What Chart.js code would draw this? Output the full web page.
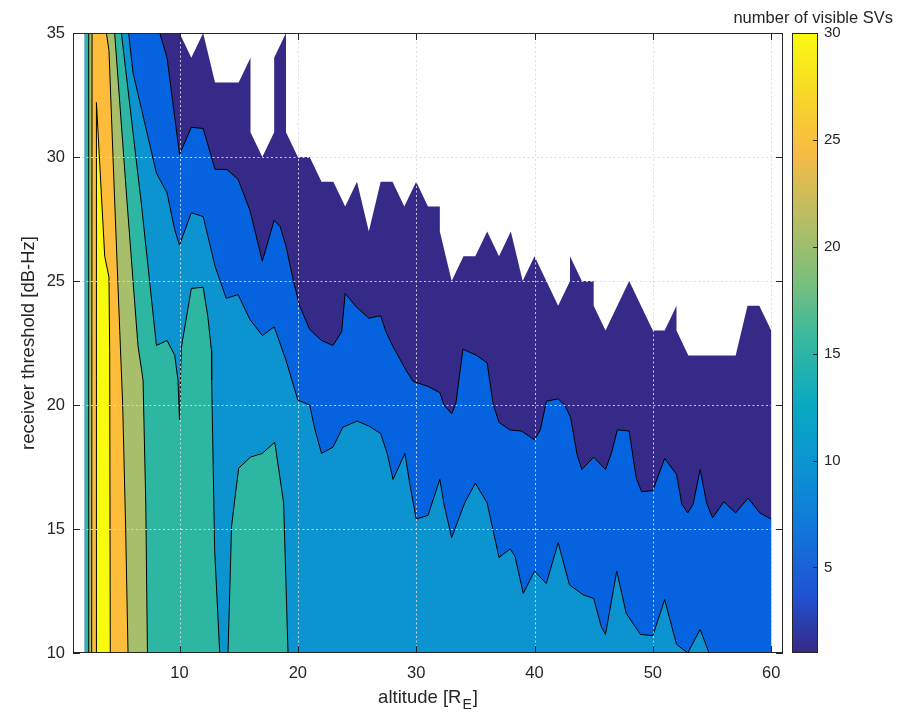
<!DOCTYPE html>
<html><head><meta charset="utf-8">
<script src="https://cdn.jsdelivr.net/npm/chart.js@4/dist/chart.umd.min.js"></script>
<style>
html,body{margin:0;padding:0;background:#fff;}
#wrap{position:relative;width:911px;height:718px;}
#wrap canvas{position:absolute;left:0;top:0;}
</style></head><body>
<div id="wrap"><canvas id="main" width="911" height="718"></canvas><canvas id="cbar" width="911" height="718"></canvas></div>
<script>
const FONT = "'Liberation Sans', Arial, Helvetica, sans-serif";
const INK = '#262626';
const TICK_SIZE = 16.5, LABEL_SIZE = 18.5, CB_TICK_SIZE = 15, CB_TITLE_SIZE = 16.5;

// ---- axes / ticks ----
const altitudeTicks = [10, 20, 30, 40, 50, 60];
const thresholdTicks = [10, 15, 20, 25, 30, 35];
const colorbarTicks = [5, 10, 15, 20, 25, 30];
const svRange = [1, 30];
const svLevels = [1, 5, 10, 15, 20, 25, 30];
const xTitleText = ['altitude [R', 'E', ']'];
const yTitleText = 'receiver threshold [dB-Hz]';
const cbTitleText = 'number of visible SVs';

// ---- filled-contour regions: [altitude R_E, threshold dB-Hz], value >= level ----
const lvl1Region = [[2,10],[60,10],[60,23],[59,24],[58,24],[57,22],[53,22],[52,23],[52,24],[51,23],[50,23],[48,25],[46,23],[45,24],[45,25],[44,25],[43,26],[43,25],[42,24],[40,26],[39,25],[38,27],[37,26],[36,27],[35,26],[34,26],[33,25],[32,27],[32,28],[31,28],[30,29],[29,28],[28,29],[27,29],[26,27],[25,29],[24,28],[23,29],[22,29],[21,30],[20,30],[19,31],[19,35],[18,34],[18,31],[17,30],[16,31],[16,34],[15,33],[13,33],[12,35],[11,34],[10,35],[2,35]];
const lvl5Region = [[8.33,35],[8.95,34.0],[10.0,30.1],[11.0,31.2],[12.0,31.15],[13.0,29.5],[14.0,29.5],[14.95,29.1],[15.95,27.85],[17.0,25.8],[18.0,27.45],[18.5,27.2],[19.0,26.4],[19.6,25.05],[20.15,24.0],[21.0,23.05],[22.0,22.6],[22.97,22.4],[23.7,22.95],[24.0,24.5],[24.95,23.95],[26.0,23.5],[27.0,23.6],[27.45,22.95],[28.05,22.35],[29.15,21.4],[29.75,20.95],[31.0,20.75],[32.0,20.5],[32.35,20.0],[33.0,19.65],[33.35,20.05],[33.95,22.25],[35.1,22.0],[36.0,21.7],[36.5,20.05],[37.0,19.3],[37.9,19.0],[38.9,18.95],[40.0,18.6],[40.5,19.0],[41.0,20.15],[42.0,20.25],[42.55,20.0],[43.05,19.5],[43.6,18.0],[44.0,17.4],[45.0,17.9],[46.0,17.4],[46.5,18.05],[47.0,19.0],[48.0,18.95],[48.6,17.05],[49.05,16.5],[50.0,16.55],[51.0,17.85],[52.0,17.2],[52.45,16.0],[52.95,15.65],[53.4,16.0],[54.0,17.4],[54.55,16.05],[55.05,15.45],[56.0,16.1],[57.0,15.65],[58.05,16.25],[59.05,15.65],[60,15.4],[60,10],[2,10],[2,35]];
const lvl10Region = [[5.7,35],[6.07,33.4],[8.05,29.35],[8.95,28.55],[9.6,27.05],[10.0,26.45],[11.0,27.75],[12.0,27.6],[13.0,25.6],[13.95,24.3],[14.95,24.45],[15.95,23.45],[17.0,22.8],[18.0,23.15],[19.0,21.8],[20.0,20.2],[21.0,20.0],[21.45,19.0],[22.0,18.05],[22.97,18.3],[23.8,19.1],[25.0,19.35],[26.0,19.15],[27.0,18.85],[27.55,18.05],[28.05,17.0],[29.05,18.05],[29.45,16.85],[30.0,15.4],[31.0,15.55],[32.0,17.0],[32.35,16.0],[33.0,14.65],[34.1,16.05],[35.0,16.85],[36.0,16.05],[36.5,14.95],[37.0,13.85],[37.95,14.2],[38.35,13.9],[39.05,12.4],[40.0,13.3],[41.0,12.8],[42.0,14.45],[42.95,12.75],[44.1,12.35],[45.0,12.2],[45.65,11.05],[46.0,10.75],[46.95,13.3],[47.75,11.6],[48.95,10.75],[50.0,10.7],[51.0,12.15],[52.0,10.35],[52.95,10],[54.0,10.95],[54.75,10],[2,10],[2,35]];
const lvl15RegionA = [[5.09,35],[6.78,28.1],[8.05,22.4],[8.95,22.6],[9.6,22.0],[9.87,21.0],[10.0,19.4],[10.15,22.3],[11.0,24.7],[12.0,24.75],[12.4,23.55],[12.7,22.2],[12.72,21.0],[12.97,14.15],[13.4,10],[2,10],[2,35]];
const lvl15RegionB = [[14.1,10],[14.4,15.1],[14.67,16.2],[15.0,17.45],[16.0,17.9],[17.0,18.05],[18.05,18.5],[18.8,16.05],[19.17,10]];
const lvl20Region = [[2.27,10],[2.33,35],[4.52,35],[5.58,28.1],[6.49,22.4],[6.92,21.0],[7.15,16.0],[7.29,10]];
const lvl25Region = [[2.58,10],[2.61,35],[3.82,35],[4.04,34.3],[4.5,28.5],[4.95,23.0],[5.2,20.0],[5.45,15.0],[5.65,10]];
const lvl30Region = [[2.98,10],[2.98,32.2],[3.68,26.0],[4.04,25.15],[4.1,22.2],[4.15,10]];

// band colours (parula at each level) and colorbar stops
const bandColors = ['#352a87', '#0563df', '#0c94d1', '#2db7a2', '#a7be6a', '#fdbd3b', '#f9fb0e'];
const parulaStops = ['#352a87','#2053d4','#1079da','#0c93d2','#07a9c2','#38b99e','#7cbf7b','#b7bd64','#f8bb44','#f7d826','#f9fb0e'];
const parulaPos = [0, 6/63, 13/63, 19/63, 25/63, 32/63, 38/63, 44/63, 51/63, 57/63, 1];

const levelParts = [
  [lvl1Region], [lvl5Region], [lvl10Region], [lvl15RegionA, lvl15RegionB],
  [lvl20Region], [lvl25Region], [lvl30Region]
];

const domain = {x0: 2, x1: 60, y0: 10, y1: 35};
const onEdge = (a, b) =>
  (a[0] === b[0] && (a[0] <= domain.x0 || a[0] >= domain.x1)) ||
  (a[1] === b[1] && (a[1] <= domain.y0 || a[1] >= domain.y1));

const datasets = [];
levelParts.forEach((parts, i) => {
  parts.forEach(poly => {
    datasets.push({
      label: 'SVs >= ' + svLevels[i],
      data: poly.map(([x, y]) => ({x, y})),
      backgroundColor: bandColors[i],
      borderWidth: 0,
      fill: 'shape',
      pointRadius: 0,
      order: 20 - i
    });
    if (i === 0) return;
    // contour line: same vertices, broken where the outline follows the data edge
    const line = [];
    for (let k = 0; k < poly.length; k++) {
      if (k > 0 && onEdge(poly[k - 1], poly[k])) {
        line.push({x: (poly[k - 1][0] + poly[k][0]) / 2, y: null});
      }
      line.push({x: poly[k][0], y: poly[k][1]});
    }
    datasets.push({
      label: 'contour ' + svLevels[i],
      data: line,
      borderColor: '#000',
      borderWidth: 1,
      fill: false,
      spanGaps: false,
      pointRadius: 0,
      order: 0
    });
  });
});

const axesOverlay = {
  id: 'axesOverlay',
  afterDatasetsDraw(chart) {
    const {ctx, chartArea: a, scales: {x, y}} = chart;
    ctx.save();
    ctx.lineWidth = 1;
    ctx.strokeStyle = 'rgba(218,218,218,0.9)';
    ctx.setLineDash([2, 2.5]);
    x.ticks.forEach(t => {
      const px = Math.round(x.getPixelForValue(t.value)) + 0.5;
      if (px <= a.left + 1 || px >= a.right - 1) return;
      ctx.beginPath(); ctx.moveTo(px, a.top); ctx.lineTo(px, a.bottom); ctx.stroke();
    });
    y.ticks.forEach(t => {
      const py = Math.round(y.getPixelForValue(t.value)) + 0.5;
      if (py <= a.top + 1 || py >= a.bottom - 1) return;
      ctx.beginPath(); ctx.moveTo(a.left, py); ctx.lineTo(a.right, py); ctx.stroke();
    });
    ctx.setLineDash([]);
    ctx.strokeStyle = INK;
    const L = 7;
    x.ticks.forEach(t => {
      const px = Math.round(x.getPixelForValue(t.value)) + 0.5;
      ctx.beginPath(); ctx.moveTo(px, a.bottom); ctx.lineTo(px, a.bottom - L);
      ctx.moveTo(px, a.top); ctx.lineTo(px, a.top + L); ctx.stroke();
    });
    y.ticks.forEach(t => {
      const py = Math.round(y.getPixelForValue(t.value)) + 0.5;
      ctx.beginPath(); ctx.moveTo(a.left, py); ctx.lineTo(a.left + L, py);
      ctx.moveTo(a.right, py); ctx.lineTo(a.right - L, py); ctx.stroke();
    });
    ctx.strokeRect(Math.round(a.left) + 0.5, Math.round(a.top) + 0.5,
                   Math.round(a.right - a.left) - 1, Math.round(a.bottom - a.top) - 1);
    ctx.restore();
  },
  afterDraw(chart) {
    const {ctx, chartArea: a} = chart;
    const subSize = Math.round(LABEL_SIZE * 0.75);
    ctx.save();
    ctx.fillStyle = INK;
    ctx.textBaseline = 'alphabetic';
    ctx.font = LABEL_SIZE + 'px ' + FONT;
    const w1 = ctx.measureText(xTitleText[0]).width;
    const w3 = ctx.measureText(xTitleText[2]).width;
    ctx.font = subSize + 'px ' + FONT;
    const w2 = ctx.measureText(xTitleText[1]).width;
    const total = w1 + w2 + w3 + 2;
    const x0 = (a.left + a.right) / 2 - total / 2;
    const base = 703;
    ctx.font = LABEL_SIZE + 'px ' + FONT;
    ctx.fillText(xTitleText[0], x0, base);
    ctx.font = subSize + 'px ' + FONT;
    ctx.fillText(xTitleText[1], x0 + w1 + 1, base + 6);
    ctx.font = LABEL_SIZE + 'px ' + FONT;
    ctx.fillText(xTitleText[2], x0 + w1 + w2 + 2, base);
    ctx.restore();
  }
};

new Chart(document.getElementById('main'), {
  type: 'line',
  data: {datasets},
  options: {
    responsive: false, animation: false, events: [],
    layout: {padding: {left: 0, top: 33, right: 128, bottom: 0}},
    plugins: {legend: {display: false}, tooltip: {enabled: false}},
    elements: {line: {tension: 0}, point: {radius: 0}},
    scales: {
      x: {
        type: 'linear', min: 1, max: 61,
        afterBuildTicks: s => { s.ticks = altitudeTicks.map(v => ({value: v})); },
        afterFit: s => { s.height = 65; },
        grid: {display: false, drawTicks: false}, border: {display: false},
        ticks: {color: INK, font: {family: FONT, size: TICK_SIZE}, padding: 11, maxRotation: 0, autoSkip: false}
      },
      y: {
        type: 'linear', min: 10, max: 35,
        afterBuildTicks: s => { s.ticks = thresholdTicks.map(v => ({value: v})); },
        afterFit: s => { s.width = 73; },
        grid: {display: false, drawTicks: false}, border: {display: false},
        ticks: {color: INK, font: {family: FONT, size: TICK_SIZE}, padding: 8},
        title: {display: true, text: yTitleText, color: INK, font: {family: FONT, size: LABEL_SIZE}, padding: {top: 18, bottom: 0}}
      }
    }
  },
  plugins: [axesOverlay]
});

function cbGradient(chart) {
  const a = chart.chartArea;
  if (!a) return parulaStops[0];
  const y = chart.scales.y;
  const g = chart.ctx.createLinearGradient(0, y.getPixelForValue(svRange[0]), 0, y.getPixelForValue(svRange[1]));
  parulaStops.forEach((c, i) => g.addColorStop(parulaPos[i], c));
  return g;
}

const cbarFrame = {
  id: 'cbarFrame',
  afterDatasetsDraw(chart) {
    const {ctx, chartArea: a, scales: {y}} = chart;
    ctx.save();
    ctx.strokeStyle = INK; ctx.lineWidth = 1;
    colorbarTicks.forEach(v => {
      const py = Math.round(y.getPixelForValue(v)) + 0.5;
      ctx.beginPath(); ctx.moveTo(a.right, py); ctx.lineTo(a.right - 5, py); ctx.stroke();
    });
    ctx.strokeRect(Math.round(a.left) + 0.5, Math.round(a.top) + 0.5,
                   Math.round(a.right - a.left) - 1, Math.round(a.bottom - a.top) - 1);
    ctx.fillStyle = INK;
    ctx.font = CB_TITLE_SIZE + 'px ' + FONT;
    ctx.textAlign = 'right';
    ctx.textBaseline = 'alphabetic';
    ctx.fillText(cbTitleText, 893, 23);
    ctx.restore();
  }
};

new Chart(document.getElementById('cbar'), {
  type: 'bar',
  data: {labels: ['SVs'], datasets: [{data: [svRange], backgroundColor: c => cbGradient(c.chart),
    borderWidth: 0, barPercentage: 1, categoryPercentage: 1}]},
  options: {
    responsive: false, animation: false, events: [],
    layout: {padding: {left: 792, top: 33, right: 0, bottom: 65}},
    plugins: {legend: {display: false}, tooltip: {enabled: false}},
    scales: {
      x: {display: false},
      y: {
        position: 'right', min: svRange[0], max: svRange[1],
        afterBuildTicks: s => { s.ticks = colorbarTicks.map(v => ({value: v})); },
        afterFit: s => { s.width = 93; },
        grid: {display: false, drawTicks: false}, border: {display: false},
        ticks: {color: INK, font: {family: FONT, size: CB_TICK_SIZE}, padding: 6}
      }
    }
  },
  plugins: [cbarFrame]
});
</script></body></html>
